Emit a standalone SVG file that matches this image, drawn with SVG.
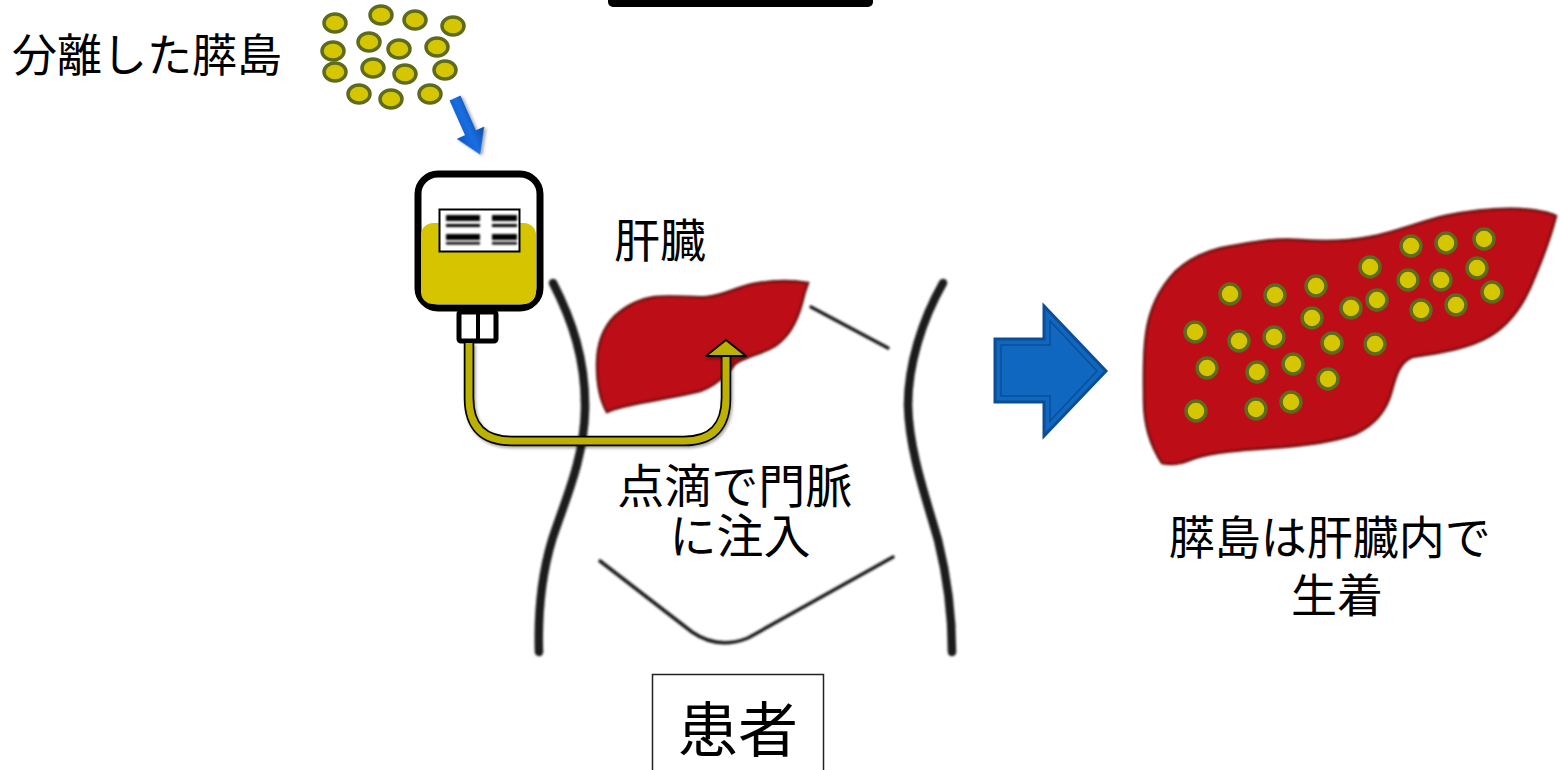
<svg xmlns="http://www.w3.org/2000/svg" width="1560" height="770" viewBox="0 0 1560 770">
  <style>
    .jp { font-family: "Noto Sans CJK JP", "Noto Sans", sans-serif; fill: #000; }
    .islet { fill: #d6c600; stroke: #5d6b1c; stroke-width: 3.5; }
    .body-line { fill: none; stroke: #1e1e1e; stroke-linecap: round; }
    .liver { fill: #bd0d17; stroke: #6e0808; stroke-width: 2.5; }
  </style>
  <defs>
    <filter id="soft" x="-10%" y="-10%" width="120%" height="120%">
      <feGaussianBlur stdDeviation="0.9"/>
    </filter>
    <filter id="softer" x="-10%" y="-10%" width="120%" height="120%">
      <feGaussianBlur stdDeviation="1.3"/>
    </filter>
    <filter id="shadow" x="-10%" y="-10%" width="130%" height="130%">
      <feDropShadow dx="1.5" dy="2" stdDeviation="1.5" flood-color="#000" flood-opacity="0.35"/>
    </filter>
    <linearGradient id="dropArrow" x1="0" y1="0" x2="1" y2="0">
      <stop offset="0" stop-color="#0a55c8"/>
      <stop offset="0.5" stop-color="#1a6fe0"/>
      <stop offset="1" stop-color="#0c4aa6"/>
    </linearGradient>
  </defs>

  <rect width="1560" height="770" fill="#ffffff"/>

  <!-- tab at top edge -->
  <rect x="608" y="-10" width="265" height="17" rx="5" fill="#000"/>

  <!-- isolated islets -->
  <g id="isolated-islets">
    <text class="jp" x="12" y="72" font-size="45">分離した膵島</text>
    <ellipse class="islet" cx="335" cy="23" rx="11" ry="9"/>
    <ellipse class="islet" cx="381" cy="15" rx="11" ry="9"/>
    <ellipse class="islet" cx="415" cy="20" rx="11" ry="9"/>
    <ellipse class="islet" cx="453" cy="26" rx="11" ry="9"/>
    <ellipse class="islet" cx="333" cy="51" rx="11" ry="9"/>
    <ellipse class="islet" cx="369" cy="42" rx="11" ry="9"/>
    <ellipse class="islet" cx="399" cy="49" rx="11" ry="9"/>
    <ellipse class="islet" cx="437" cy="47" rx="11" ry="9"/>
    <ellipse class="islet" cx="335" cy="72" rx="11" ry="9"/>
    <ellipse class="islet" cx="373" cy="68" rx="11" ry="9"/>
    <ellipse class="islet" cx="405" cy="74" rx="11" ry="9"/>
    <ellipse class="islet" cx="445" cy="70" rx="11" ry="9"/>
    <ellipse class="islet" cx="359" cy="94" rx="11" ry="9"/>
    <ellipse class="islet" cx="391" cy="99" rx="11" ry="9"/>
    <ellipse class="islet" cx="430" cy="94" rx="11" ry="9"/>
  </g>

  <!-- patient body outline -->
  <g id="patient-body" filter="url(#soft)">
    <path class="body-line" stroke-width="8.5" d="M553,283 C572,320 586,360 585,410 C584,460 565,500 552,540 C540,580 538,620 539,652"/>
    <path class="body-line" stroke-width="8.5" d="M943,283 C922,320 908,365 908,405 C909,450 925,495 938,540 C948,580 952,620 952,652"/>
    <path class="body-line" stroke-width="3.5" stroke="#333" d="M811,307 L888,348"/>
    <path class="body-line" stroke-width="3.5" stroke="#333" d="M600,561 L692,632 Q718,650 748,638 L893,557"/>
  </g>

  <!-- liver in the body -->
  <g id="liver-small" filter="url(#soft)">
    <path class="liver" d="M808,283 C790,280 770,281 753,284 C735,288 722,296 707,297 C690,298 672,295 655,297 C640,299 627,305 615,316 C603,328 597,345 597,365 C597,385 600,400 607,412 C615,408 625,406 640,403 C660,399 680,396 700,391 C715,386 725,376 735,364 C745,356 760,355 775,346 C790,336 798,318 802,303 C804,294 806,288 808,283 Z"/>
  </g>

  <!-- liver label -->
  <g id="liver-label">
    <text class="jp" x="614" y="257" font-size="46">肝臓</text>
  </g>

  <!-- infusion bag -->
  <g id="infusion-bag">
    <rect x="418" y="174" width="122" height="134" rx="20" fill="#fff" stroke="#000" stroke-width="7"/>
    <rect x="421" y="223" width="115" height="81" rx="12" fill="#d6c400"/>
    <rect x="439.5" y="209.5" width="80" height="42" fill="#fff" stroke="#000" stroke-width="2"/>
    <g fill="#000" filter="url(#soft)">
      <rect x="446" y="215" width="34" height="6"/>
      <rect x="446" y="224" width="34" height="3"/>
      <rect x="446" y="234" width="34" height="6"/>
      <rect x="446" y="242" width="34" height="2.5"/>
      <rect x="492" y="215" width="25" height="6"/>
      <rect x="492" y="224" width="25" height="3"/>
      <rect x="492" y="234" width="25" height="6"/>
      <rect x="492" y="242" width="25" height="2.5"/>
    </g>
    <rect x="459" y="312" width="37" height="29" rx="2" fill="#fff" stroke="#000" stroke-width="5"/>
    <line x1="478" y1="312" x2="478" y2="341" stroke="#000" stroke-width="4"/>
  </g>

  <!-- connectors -->
  <g id="connectors">
    <!-- drop of islets into the bag -->
    <g transform="translate(455,98) rotate(-24)">
      <path d="M-6,0 H6 V38 H15 L0,62 L-15,38 H-6 Z" fill="url(#dropArrow)" filter="url(#shadow)"/>
    </g>
    <!-- infusion tube to the portal vein -->
    <g filter="url(#shadow)">
      <path d="M469,343 V398 Q469,441 512,441 H684 Q726,441 726,398 V354" fill="none" stroke="#000" stroke-width="10.5"/>
      <path d="M469,343 V398 Q469,441 512,441 H684 Q726,441 726,398 V354" fill="none" stroke="#bdb100" stroke-width="7"/>
      <path d="M706,356 L726,340 L746,356 Z" fill="#bdb100" stroke="#000" stroke-width="1.8" stroke-linejoin="round"/>
    </g>
    <!-- result arrow -->
    <g id="result-arrow">
      <path d="M995,339 H1044 V306 L1106,371 L1044,436 V402 H995 Z" fill="#0f67c0" stroke="#0c4e96" stroke-width="3"/>
      <path d="M1001,345 H1050 V321 L1097,371 L1050,421 V396 H1001 Z" fill="none" stroke="#0b4f96" stroke-width="1.5"/>
    </g>
  </g>

  <!-- infusion label (two lines) -->
  <g id="infusion-label">
    <text class="jp" font-size="47" text-anchor="middle">
      <tspan x="740" y="503">点滴で門脈</tspan>
      <tspan x="740" y="553">に注入</tspan>
    </text>
  </g>

  <!-- liver with engrafted islets -->
  <g id="liver-large">
    <path class="liver" stroke="#5a0505" stroke-width="5" filter="url(#softer)" d="M1162,463 C1150,445 1144,425 1144,400 C1144,375 1143,357 1146,335 C1149,310 1158,290 1175,272 C1192,256 1212,249 1232,246 C1255,242 1275,238 1300,240 C1325,242 1345,242 1370,237 C1395,232 1420,222 1445,216 C1470,211 1495,208 1520,209 C1535,210 1548,212 1556,216 C1550,240 1540,265 1530,288 C1520,310 1508,325 1490,336 C1470,348 1440,353 1412,357 C1400,362 1396,375 1392,390 C1387,410 1375,425 1355,434 C1330,443 1300,446 1270,448 C1240,450 1215,452 1195,458 C1185,462 1175,466 1162,463 Z"/>
    <g>
      <circle class="islet" cx="1411" cy="246" r="10"/>
      <circle class="islet" cx="1446" cy="243" r="10"/>
      <circle class="islet" cx="1484" cy="239" r="10"/>
      <circle class="islet" cx="1370" cy="267" r="10"/>
      <circle class="islet" cx="1408" cy="280" r="10"/>
      <circle class="islet" cx="1441" cy="280" r="10"/>
      <circle class="islet" cx="1477" cy="268" r="10"/>
      <circle class="islet" cx="1316" cy="286" r="10"/>
      <circle class="islet" cx="1230" cy="294" r="10"/>
      <circle class="islet" cx="1275" cy="295" r="10"/>
      <circle class="islet" cx="1351" cy="308" r="10"/>
      <circle class="islet" cx="1377" cy="300" r="10"/>
      <circle class="islet" cx="1421" cy="310" r="10"/>
      <circle class="islet" cx="1456" cy="305" r="10"/>
      <circle class="islet" cx="1492" cy="292" r="10"/>
      <circle class="islet" cx="1312" cy="318" r="10"/>
      <circle class="islet" cx="1195" cy="332" r="10"/>
      <circle class="islet" cx="1239" cy="341" r="10"/>
      <circle class="islet" cx="1274" cy="337" r="10"/>
      <circle class="islet" cx="1332" cy="343" r="10"/>
      <circle class="islet" cx="1375" cy="344" r="10"/>
      <circle class="islet" cx="1207" cy="368" r="10"/>
      <circle class="islet" cx="1257" cy="372" r="10"/>
      <circle class="islet" cx="1293" cy="364" r="10"/>
      <circle class="islet" cx="1328" cy="379" r="10"/>
      <circle class="islet" cx="1196" cy="411" r="10"/>
      <circle class="islet" cx="1256" cy="409" r="10"/>
      <circle class="islet" cx="1291" cy="402" r="10"/>
    </g>
  </g>

  <!-- engraftment label (two lines) -->
  <g id="engraft-label">
    <text class="jp" font-size="46" text-anchor="middle">
      <tspan x="1335" y="554">膵島は肝臓内で</tspan>
      <tspan x="1337" y="612">生着</tspan>
    </text>
  </g>

  <!-- patient label -->
  <g id="patient-label">
    <rect x="652.5" y="674.5" width="171" height="110" fill="#fff" stroke="#222" stroke-width="1.5"/>
    <text class="jp" x="738" y="752" font-size="60" text-anchor="middle">患者</text>
  </g>
</svg>
